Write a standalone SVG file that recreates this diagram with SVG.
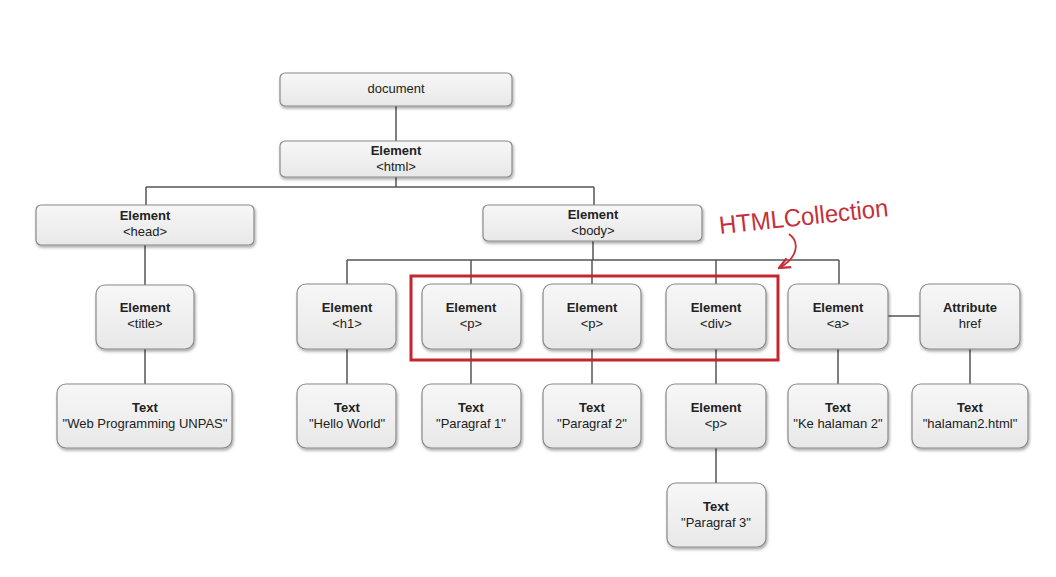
<svg xmlns="http://www.w3.org/2000/svg" width="1056" height="577" viewBox="0 0 1056 577">
<style>
.box{fill:url(#g);stroke:#8a8a8a;stroke-width:1.2;filter:url(#sh)}
.t{font-family:"Liberation Sans",Arial,sans-serif;font-size:13px;fill:#222;text-anchor:middle}
.b{font-weight:bold}
.c{fill:none;stroke:#555;stroke-width:1.5}
</style>
<defs>
<linearGradient id="g" x1="0" y1="0" x2="0" y2="1"><stop offset="0" stop-color="#f7f7f7"/><stop offset="1" stop-color="#e8e8e8"/></linearGradient>
<filter id="sh" x="-10%" y="-10%" width="130%" height="140%"><feDropShadow dx="1" dy="2" stdDeviation="1.5" flood-color="#000" flood-opacity="0.35"/></filter>
<marker id="ah" viewBox="0 0 10 10" refX="9" refY="5" markerWidth="7" markerHeight="7" orient="auto"><path d="M0,1 L9,5 L0,9" fill="none" stroke="#c4303a" stroke-width="1.8"/></marker>
</defs>
<rect width="1056" height="577" fill="#fff"/>
<g id="connectors">
<path class="c" d="M396,106V141M396,177V187M146,187H594M146,187V205M594,187V205M145,245V285M145,349V384M593,241V260M347,260H839M347,260V284M471,260V284M592,260V284M716,260V284M839,260V284M888,316H920M347,349V384M471,349V384M592,349V384M716,349V384M838,349V384M970,349V384M716,448V483"/>
</g>
<g id="n-document"><rect class="box" x="280" y="73" width="232" height="33" rx="5"/><text class="t" x="396" y="93">document</text></g>
<g id="n-html"><rect class="box" x="280" y="141" width="232" height="36" rx="5"/><text class="t b" x="396" y="155">Element</text><text class="t" x="396" y="171">&lt;html&gt;</text></g>
<g id="n-head"><rect class="box" x="36" y="205" width="218" height="40" rx="5"/><text class="t b" x="145" y="220">Element</text><text class="t" x="145" y="236">&lt;head&gt;</text></g>
<g id="n-body"><rect class="box" x="483" y="205" width="219" height="36" rx="5"/><text class="t b" x="593" y="219">Element</text><text class="t" x="593" y="235">&lt;body&gt;</text></g>
<g id="n-title"><rect class="box" x="96" y="285" width="98" height="64" rx="9"/><text class="t b" x="145" y="312">Element</text><text class="t" x="145" y="328">&lt;title&gt;</text></g>
<g id="n-h1"><rect class="box" x="297" y="284" width="99" height="65" rx="9"/><text class="t b" x="347" y="312">Element</text><text class="t" x="347" y="328">&lt;h1&gt;</text></g>
<g id="n-p1"><rect class="box" x="422" y="284" width="99" height="65" rx="9"/><text class="t b" x="471" y="312">Element</text><text class="t" x="471" y="328">&lt;p&gt;</text></g>
<g id="n-p2"><rect class="box" x="543" y="284" width="98" height="65" rx="9"/><text class="t b" x="592" y="312">Element</text><text class="t" x="592" y="328">&lt;p&gt;</text></g>
<g id="n-div"><rect class="box" x="666" y="284" width="100" height="65" rx="9"/><text class="t b" x="716" y="312">Element</text><text class="t" x="716" y="328">&lt;div&gt;</text></g>
<g id="n-a"><rect class="box" x="788" y="284" width="100" height="65" rx="9"/><text class="t b" x="838" y="312">Element</text><text class="t" x="838" y="328">&lt;a&gt;</text></g>
<g id="n-attr"><rect class="box" x="920" y="284" width="100" height="65" rx="9"/><text class="t b" x="970" y="312">Attribute</text><text class="t" x="970" y="328">href</text></g>
<g id="n-text-title"><rect class="box" x="57" y="384" width="175" height="64" rx="9"/><text class="t b" x="145" y="412">Text</text><text class="t" x="145" y="428">"Web Programming UNPAS"</text></g>
<g id="n-text-h1"><rect class="box" x="297" y="384" width="99" height="64" rx="9"/><text class="t b" x="347" y="412">Text</text><text class="t" x="347" y="428">"Hello World"</text></g>
<g id="n-text-p1"><rect class="box" x="422" y="384" width="99" height="64" rx="9"/><text class="t b" x="471" y="412">Text</text><text class="t" x="471" y="428">"Paragraf 1"</text></g>
<g id="n-text-p2"><rect class="box" x="543" y="384" width="98" height="64" rx="9"/><text class="t b" x="592" y="412">Text</text><text class="t" x="592" y="428">"Paragraf 2"</text></g>
<g id="n-p3"><rect class="box" x="666" y="384" width="100" height="64" rx="9"/><text class="t b" x="716" y="412">Element</text><text class="t" x="716" y="428">&lt;p&gt;</text></g>
<g id="n-text-a"><rect class="box" x="788" y="384" width="100" height="64" rx="9"/><text class="t b" x="838" y="412">Text</text><text class="t" x="838" y="428">"Ke halaman 2"</text></g>
<g id="n-text-attr"><rect class="box" x="912" y="384" width="116" height="64" rx="9"/><text class="t b" x="970" y="412">Text</text><text class="t" x="970" y="428">"halaman2.html"</text></g>
<g id="n-text-p3"><rect class="box" x="667" y="483" width="99" height="64" rx="9"/><text class="t b" x="716" y="511">Text</text><text class="t" x="716" y="527">"Paragraf 3"</text></g>
<g id="htmlcollection">
<rect x="411" y="276" width="367" height="84" fill="none" stroke="#c4262e" stroke-width="3"/>
<text x="720" y="234" transform="rotate(-6 720 234)" font-family="Liberation Sans,Arial,sans-serif" font-size="25" fill="#c4303a" textLength="170" lengthAdjust="spacingAndGlyphs">HTMLCollection</text>
<path d="M789,234 C800,242 798,258 779,268" fill="none" stroke="#c4303a" stroke-width="1.8" marker-end="url(#ah)"/>
</g>
</svg>
